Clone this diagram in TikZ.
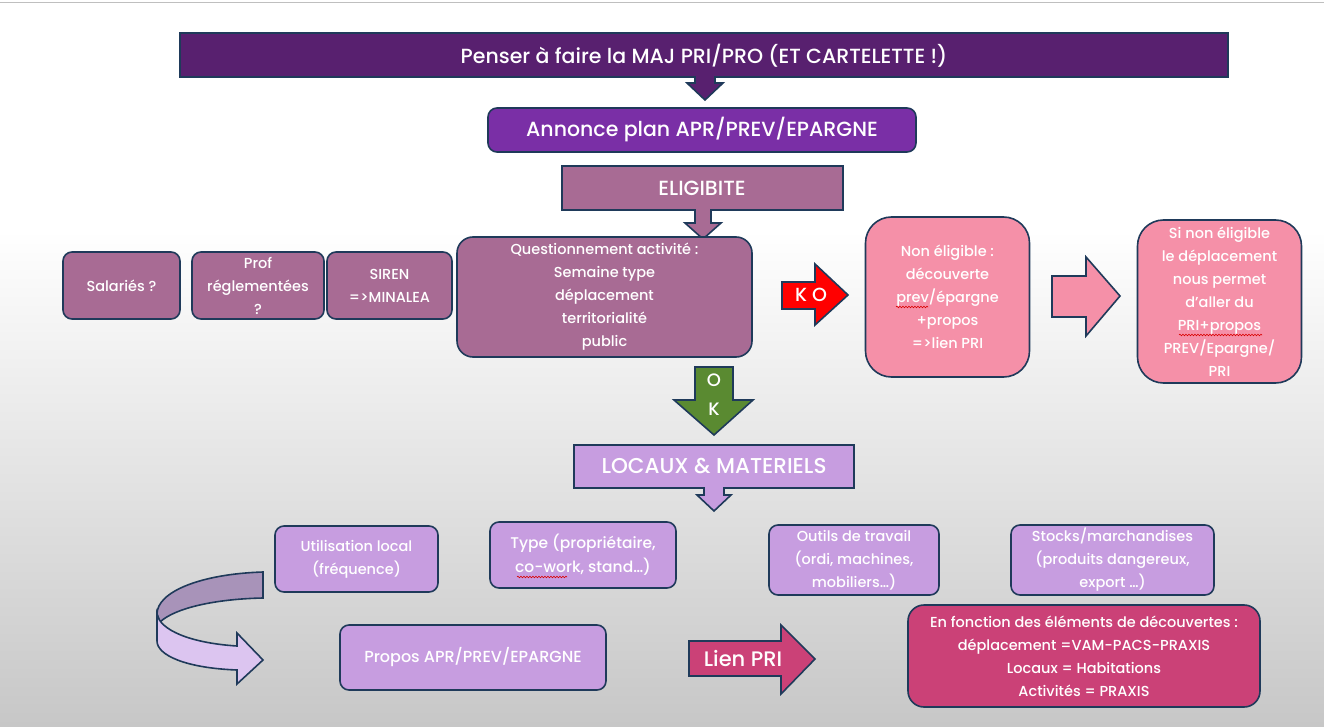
\documentclass[tikz,border=0pt]{standalone}
\usepackage{fontspec}
\setmainfont{Poppins}[UprightFont={* Medium}]
\usetikzlibrary{calc, decorations.pathmorphing}

\definecolor{navyline}{HTML}{1F3A5A}
\definecolor{banner}{HTML}{58206F}
\definecolor{annonce}{HTML}{7A2FA6}
\definecolor{mauve}{HTML}{A86B94}
\definecolor{pinkbox}{HTML}{F590A8}
\definecolor{lavender}{HTML}{C79DE0}
\definecolor{rasp}{HTML}{CB4177}
\definecolor{okgreen}{HTML}{5A8A31}
\definecolor{ringdark}{HTML}{A893B9}
\definecolor{ringlight}{HTML}{DCC5F0}

\tikzset{
  boxline/.style={draw=navyline, line width=1.6pt},
  txt/.style={text=white, align=center, inner sep=0pt, font=\fontsize{14.5}{23}\selectfont},
  title/.style={text=white, inner sep=0pt, font=\fontsize{20.5}{22}\selectfont},
  mauvecard/.style={boxline, fill=mauve, rounded corners=9pt, txt},
  pinkcard/.style={boxline, fill=pinkbox, rounded corners=26pt, txt},
  lavcard/.style={boxline, fill=lavender, rounded corners=9pt, txt},
  spellmark/.style={red!85!black, line width=0.6pt, decorate, decoration={snake, amplitude=0.8pt, segment length=3pt}},
}

\begin{document}
\begin{tikzpicture}[x=1pt,y=-1pt]
\useasboundingbox (0,0) rectangle (1324,727);

% background
\fill[white] (0,0) rectangle (1324,727);
\shade[top color=white, bottom color=black!22] (0,230) rectangle (1324,727);
\draw[black!25, line width=1pt] (0,3) -- (1324,3);

% top banner with its arrow
\filldraw[boxline, fill=banner] (180,33) -- (1228,33) -- (1228,77) -- (715,77) -- (715,83)
  -- (723,83) -- (705,100) -- (687,83) -- (695,83) -- (695,77) -- (180,77) -- cycle;
\node[title] (majtext) at (704,56) {Penser à faire la MAJ PRI/PRO (ET CARTELETTE !)};

\node[boxline, fill=annonce, rounded corners=9pt, title, minimum width=428pt, minimum height=44pt]
  (annonce) at (702,130) {Annonce plan APR/PREV/EPARGNE};

% eligibilite
\filldraw[boxline, fill=mauve] (562,166) -- (843,166) -- (843,210) -- (711,210) -- (711,223)
  -- (721,223) -- (703,239) -- (685,223) -- (695,223) -- (695,210) -- (562,210) -- cycle;
\node[title] (eligtext) at (702,188) {ELIGIBITE};

\node[mauvecard, minimum width=117pt, minimum height=67pt] (salaries) at (121.5,285.5) {Salariés ?};
\node[mauvecard, minimum width=132pt, minimum height=67pt] (prof) at (258,285.5) {Prof\\réglementées\\?};
\node[mauvecard, minimum width=125pt, minimum height=67pt] (siren) at (389.5,285.5) {SIREN\\=>MINALEA};
\node[mauvecard, rounded corners=16pt, minimum width=295pt, minimum height=120pt] (quest) at (604.5,297)
  {Questionnement activité :\\Semaine type\\déplacement\\territorialité\\public};

% KO
\filldraw[boxline, fill=red] (782,282) -- (815,282) -- (815,264) -- (848,295) -- (815,325)
  -- (815,309) -- (782,309) -- cycle;
\node[title, font=\fontsize{19}{20}\selectfont] (ko) at (811,295) {K O};

\node[pinkcard, minimum width=164pt, minimum height=160pt] (nonelig) at (947.5,297)
  {Non éligible :\\découverte\\prev/épargne\\+propos\\=>lien PRI};

\filldraw[boxline, fill=pinkbox] (1052,276) -- (1086,276) -- (1086,257) -- (1120,296) -- (1086,336)
  -- (1086,317) -- (1052,317) -- cycle;

\node[pinkcard, minimum width=164pt, minimum height=163pt] (sinon) at (1219.5,301.5)
  {Si non éligible\\le déplacement\\nous permet\\d'aller du\\PRI+propos\\PREV/Epargne/\\PRI};

% OK
\filldraw[boxline, fill=okgreen] (695,367) -- (733,367) -- (733,400) -- (753,400) -- (714,435)
  -- (674,400) -- (695,400) -- cycle;
\node[title, font=\fontsize{18}{18}\selectfont] (oktop) at (714,380) {O};
\node[title, font=\fontsize{18}{18}\selectfont] (okbot) at (714,409) {K};

% locaux
\filldraw[boxline, fill=lavender] (574,445) -- (854,445) -- (854,488) -- (724,488) -- (724,495)
  -- (731,495) -- (714,511) -- (697,495) -- (704,495) -- (704,488) -- (574,488) -- cycle;
\node[title, font=\fontsize{21.5}{22}\selectfont] (locaux) at (714,466) {LOCAUX \& MATERIELS};

\node[lavcard, minimum width=163pt, minimum height=66pt] (utilis) at (356.5,559) {Utilisation local\\(fréquence)};
\node[lavcard, minimum width=186pt, minimum height=66pt, font=\fontsize{15.5}{24}\selectfont] (typeloc) at (583,555) {Type (propriétaire,\\co-work, stand…)};
\node[lavcard, minimum width=170pt, minimum height=70pt] (outils) at (854,560) {Outils de travail\\(ordi, machines,\\mobiliers…)};
\node[lavcard, minimum width=203pt, minimum height=70pt] (stocks) at (1112.5,560) {Stocks/marchandises\\(produits dangereux,\\export …)};

% curved arrow
\filldraw[boxline, fill=ringdark] (263,572) .. controls (200,574) and (157,592) .. (157,614)
  -- (160,622) .. controls (175,608) and (215,599) .. (263,598) -- cycle;
\filldraw[boxline, fill=ringlight] (157,614) .. controls (160,630) and (190,643) .. (237,646)
  -- (237,633) -- (263,660) -- (237,684) -- (237,670) .. controls (185,668) and (157,655) .. (157,641) -- cycle;

\node[lavcard, minimum width=266pt, minimum height=65pt, font=\fontsize{16}{20}\selectfont] (propos) at (473,657.5) {Propos APR/PREV/EPARGNE};

% lien PRI
\filldraw[boxline, fill=rasp] (689,641) -- (781,641) -- (781,625) -- (815,659) -- (781,694)
  -- (781,676) -- (689,676) -- cycle;
\node[title, font=\fontsize{21}{22}\selectfont] (lien) at (743,659) {Lien PRI};

\node[boxline, fill=rasp, rounded corners=16pt, txt, minimum width=352pt, minimum height=102pt] (enfonction) at (1084,656)
  {En fonction des éléments de découvertes :\\déplacement =VAM-PACS-PRAXIS\\Locaux = Habitations\\Activités = PRAXIS};

% spelling marks
\draw[spellmark] (896,307) -- (928,307);
\draw[spellmark] (1179,335) -- (1262,335);
\draw[spellmark] (517,577) -- (567,577);

\end{tikzpicture}
\end{document}
